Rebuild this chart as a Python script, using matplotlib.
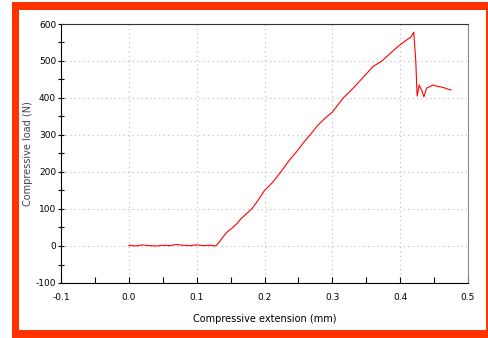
import matplotlib.pyplot as plt
from matplotlib.patches import Rectangle
from matplotlib.ticker import MultipleLocator

plt.rcParams['axes.unicode_minus'] = False

# extension (mm) and load (N)
ext = [0.0, 0.01, 0.02, 0.03, 0.04, 0.05, 0.06, 0.07, 0.08, 0.09, 0.10, 0.11, 0.12, 0.128,
       0.133, 0.139, 0.145, 0.152, 0.159, 0.166, 0.174, 0.181, 0.190, 0.200, 0.212, 0.224,
       0.235, 0.246, 0.257, 0.267, 0.278, 0.289, 0.300, 0.316, 0.330, 0.345, 0.360, 0.373,
       0.385, 0.396, 0.408, 0.416, 0.420, 0.423, 0.425, 0.428, 0.432, 0.435, 0.439, 0.443,
       0.448, 0.454, 0.460, 0.466, 0.470, 0.475]
load = [2, 0, 3, 1, 0, 2, 1, 4, 2, 1, 3, 1, 2, 0,
        10, 25, 38, 48, 60, 75, 88, 100, 122, 150, 172, 200,
        228, 252, 278, 300, 325, 345, 362, 400, 425, 455, 485, 500,
        520, 538, 555, 565, 578, 500, 405, 435, 420, 403, 427, 430,
        435, 432, 430, 427, 424, 422]

W, H = 489, 338
fig = plt.figure(figsize=(W / 100, H / 100), dpi=100)
fig.patch.set_facecolor('white')

# orange frame
fig.patches.append(Rectangle((12 / W, 0), 1, 1 - 2 / H, transform=fig.transFigure,
                             facecolor='#ff3300', edgecolor='none', zorder=-10))
fig.patches.append(Rectangle((19 / W, 8 / H), (486 - 19) / W, (330 - 10) / H,
                             transform=fig.transFigure, facecolor='white',
                             edgecolor='none', zorder=-9))

ax = fig.add_axes([61 / W, 1 - 283 / H, (468 - 61) / W, (283 - 24) / H])
ax.set_zorder(5)
ax.set_facecolor('white')
ax.plot(ext, load, color='#ff0000', linewidth=0.8)

ax.set_xlim(-0.1, 0.5)
ax.set_ylim(-100, 600)
ax.xaxis.set_major_locator(MultipleLocator(0.1))
ax.xaxis.set_minor_locator(MultipleLocator(0.05))
ax.yaxis.set_major_locator(MultipleLocator(100))
ax.yaxis.set_minor_locator(MultipleLocator(50))
ax.set_xticks([-0.1, 0.0, 0.1, 0.2, 0.3, 0.4, 0.5])
ax.set_xticklabels(['-0.1', '0.0', '0.1', '0.2', '0.3', '0.4', '0.5'])

ax.tick_params(axis='x', which='both', direction='in', length=4, width=0.8,
               labelsize=6.5, pad=7, colors='black')
ax.tick_params(axis='y', which='both', direction='inout', length=5, width=0.8,
               labelsize=6.5, pad=1, colors='black')

ax.grid(True, which='major', linestyle=(0, (1, 3)), color='#bbbbbb', linewidth=0.8)

ax.spines['left'].set_color('black')
ax.spines['bottom'].set_color('black')
ax.spines['top'].set_color('#333333')
ax.spines['right'].set_color('#888888')
for s in ax.spines.values():
    s.set_linewidth(0.8)

ax.set_xlabel('Compressive extension (mm)', fontsize=7, labelpad=9)
ax.set_ylabel('Compressive load (N)', fontsize=7, color='#444444')
ax.yaxis.set_label_coords(-0.069, 0.5)

fig.savefig('out.png', dpi=100)
